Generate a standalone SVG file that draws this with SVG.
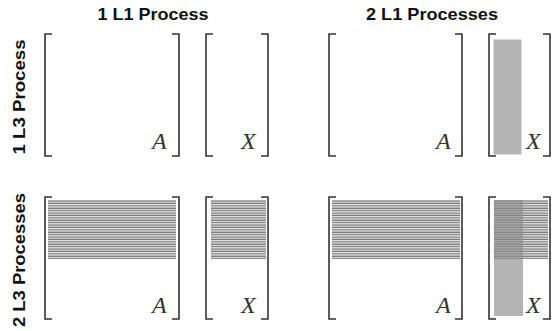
<svg xmlns="http://www.w3.org/2000/svg" width="554" height="331" viewBox="0 0 554 331">
  <style>
    .title { font-family: "Liberation Sans", Arial, sans-serif; font-weight: bold; font-size: 16.5px; fill: #111; }
    .var { font-family: "Liberation Serif", "Times New Roman", serif; font-style: italic; font-size: 24px; fill: #333; }
    .br { fill: none; stroke: #333; stroke-width: 1.6; }
    .col { fill: #b4b4b4; }
    .colover { fill: #8c8c8c; fill-opacity: 0.65; }
  </style>
  <defs>
    <pattern id="rows" x="0" y="200" width="4" height="2.4" patternUnits="userSpaceOnUse">
      <rect x="0" y="0" width="4" height="2.4" fill="#e2e2e2"/>
      <rect x="0" y="0.5" width="4" height="1.1" fill="#727272"/>
    </pattern>
  </defs>

  <!-- column and row headings -->
  <g id="headings">
    <text class="title" x="153" y="20" text-anchor="middle" textLength="111" lengthAdjust="spacingAndGlyphs">1 L1 Process</text>
    <text class="title" x="432" y="20" text-anchor="middle" textLength="132" lengthAdjust="spacingAndGlyphs">2 L1 Processes</text>
    <text class="title" transform="translate(25,97) rotate(-90)" text-anchor="middle" textLength="115" lengthAdjust="spacingAndGlyphs">1  L3 Process</text>
    <text class="title" transform="translate(25,260) rotate(-90)" text-anchor="middle" textLength="134" lengthAdjust="spacingAndGlyphs">2  L3 Processes</text>
  </g>

  <!-- 1 L3, 1 L1 -->
  <g id="A-11">
    <path class="br" d="M52,34 H45 V156 H52 M172,34 H179 V156 H172"/>
    <text class="var" x="152" y="149">A</text>
  </g>
  <g id="X-11">
    <path class="br" d="M213,34 H206 V156 H213 M261,34 H268 V156 H261"/>
    <text class="var" x="241" y="149">X</text>
  </g>

  <!-- 1 L3, 2 L1 -->
  <g id="A-12">
    <path class="br" d="M336,34 H329 V156 H336 M455,34 H462 V156 H455"/>
    <text class="var" x="436" y="149">A</text>
  </g>
  <g id="X-12">
    <rect x="493" y="39" width="29" height="116" class="col" stroke="#fff" stroke-width="1"/>
    <path class="br" d="M496,34 H489 V156 H496 M543,34 H550 V156 H543"/>
    <text class="var" x="526" y="149">X</text>
  </g>

  <!-- 2 L3, 1 L1 -->
  <g id="A-21">
    <rect x="48" y="200" width="128" height="59" fill="url(#rows)"/>
    <path class="br" d="M52,197 H45 V319 H52 M172,197 H179 V319 H172"/>
    <text class="var" x="152" y="313">A</text>
  </g>
  <g id="X-21">
    <rect x="211" y="200" width="55" height="59" fill="url(#rows)"/>
    <path class="br" d="M213,197 H206 V319 H213 M261,197 H268 V319 H261"/>
    <text class="var" x="241" y="313">X</text>
  </g>

  <!-- 2 L3, 2 L1 -->
  <g id="A-22">
    <rect x="332" y="200" width="128" height="59" fill="url(#rows)"/>
    <path class="br" d="M336,197 H329 V319 H336 M455,197 H462 V319 H455"/>
    <text class="var" x="436" y="313">A</text>
  </g>
  <g id="X-22">
    <rect x="494" y="200" width="54" height="59" fill="url(#rows)"/>
    <rect x="494" y="200" width="29" height="116" class="colover"/>
    <path class="br" d="M496,197 H489 V319 H496 M543,197 H550 V319 H543"/>
    <text class="var" x="526" y="313">X</text>
  </g>
</svg>
